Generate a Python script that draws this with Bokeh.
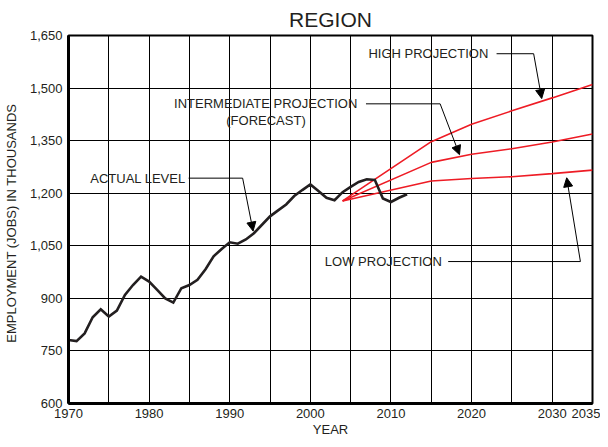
from bokeh.plotting import figure
from bokeh.models import (Range1d, FixedTicker, NumeralTickFormatter, Label, Arrow, NormalHead)
from bokeh.embed import file_html
from bokeh.resources import INLINE

FONT = "Liberation Sans"
TXT = "#231f20"

# ---- data ----
actual_years = list(range(1970, 2013))
actual_jobs = [781, 778, 800, 846, 869, 848, 865, 910, 938, 962,
               948, 924, 900, 888, 929, 938, 953, 983, 1020, 1041,
               1060, 1056, 1068, 1086, 1110, 1134, 1151, 1168, 1192, 1209,
               1225, 1206, 1187, 1180, 1203, 1218, 1232, 1240, 1238, 1185,
               1175, 1187, 1197]
proj_years = [2004, 2015, 2020, 2025, 2030, 2035]
high_proj = [1178, 1347, 1397, 1435, 1472, 1510]
inter_proj = [1178, 1288, 1311, 1327, 1346, 1369]
low_proj = [1178, 1235, 1242, 1247, 1256, 1266]

x_ticks = list(range(1970, 2036, 5))
x_tick_labels = {t: (str(t) if (t % 10 == 0 or t == 2035) else "") for t in x_ticks}
y_ticks = list(range(600, 1651, 150))

# annotations: (text, label x, label y, leader points, arrow tip)
annotations = [
    ("HIGH PROJECTION", 2007.2, 1598, [(2023.1, 1598), (2027.7, 1598)], (2028.7, 1470)),
    ("INTERMEDIATE PROJECTION", 1983.1, 1455, [(2006.9, 1455), (2016.1, 1455)], (2018.5, 1310)),
    ("ACTUAL LEVEL", 1972.7, 1243, [(1984.9, 1243), (1991.6, 1243)], (1992.9, 1092)),
    ("LOW PROJECTION", 2001.8, 1005, [(2017.1, 1005), (2033.5, 1005)], (2031.8, 1244)),
]
forecast_note = ("(FORECAST)", 1994.5, 1407)

p = figure(width=600, height=439, x_range=Range1d(1970, 2035), y_range=Range1d(600, 1650),
           output_backend="svg", toolbar_location=None,
           min_border_left=60, min_border_right=8, min_border_top=31, min_border_bottom=36,
           background_fill_color="white", border_fill_color="white")

p.title.text = "REGION"
p.title.align = "center"
p.title.text_font = FONT
p.title.text_font_size = "21px"
p.title.text_font_style = "normal"
p.title.text_color = TXT

p.outline_line_color = "black"
p.outline_line_width = 2
p.outline_line_alpha = 1

p.xaxis.ticker = FixedTicker(ticks=x_ticks)
p.xaxis.major_label_overrides = x_tick_labels
p.yaxis.ticker = FixedTicker(ticks=y_ticks)
p.yaxis.formatter = NumeralTickFormatter(format="0,0")
p.xgrid.ticker = FixedTicker(ticks=x_ticks)
p.ygrid.ticker = FixedTicker(ticks=y_ticks)

for ax in (p.xaxis[0], p.yaxis[0]):
    ax.axis_line_width = 3
    ax.axis_line_color = "black"
    ax.major_tick_in = 0
    ax.major_tick_out = 0
    ax.minor_tick_in = 0
    ax.minor_tick_out = 0
    ax.major_label_text_font = FONT
    ax.major_label_text_font_size = "13px"
    ax.major_label_text_color = TXT
    ax.axis_label_text_font = FONT
    ax.axis_label_text_font_size = "13px"
    ax.axis_label_text_font_style = "normal"
    ax.axis_label_text_color = TXT

p.xaxis.axis_label = "YEAR"
p.yaxis.axis_label = "EMPLOYMENT (JOBS)  IN  THOUSANDS"
p.xaxis.major_label_standoff = 5
p.xaxis.axis_label_standoff = 1
p.yaxis.major_label_standoff = 6
p.yaxis.axis_label_standoff = 8

for g in (p.xgrid[0], p.ygrid[0]):
    g.grid_line_color = "black"
    g.grid_line_alpha = 1
    g.grid_line_width = 1

red = "#ee1c25"
p.line(proj_years, high_proj, line_color=red, line_width=1.6)
p.line(proj_years, inter_proj, line_color=red, line_width=1.6)
p.line(proj_years, low_proj, line_color=red, line_width=1.6)
p.line(actual_years, actual_jobs, line_color="#231f20", line_width=2.6, line_join="miter")

for text, lx, ly, leader, tip in annotations:
    p.add_layout(Label(x=lx, y=ly, text=text, text_font=FONT, text_font_size="13px",
                       text_color=TXT, text_baseline="middle", text_align="left"))
    xs = [pt[0] for pt in leader]
    ys = [pt[1] for pt in leader]
    p.line(xs, ys, line_color="black", line_width=1)
    p.add_layout(Arrow(end=NormalHead(size=9, fill_color="black", line_color="black"),
                       x_start=xs[-1], y_start=ys[-1], x_end=tip[0], y_end=tip[1],
                       line_color="black", line_width=1))

p.add_layout(Label(x=forecast_note[1], y=forecast_note[2], text=forecast_note[0],
                   text_font=FONT, text_font_size="13px", text_color=TXT,
                   text_baseline="middle", text_align="center"))

open("out.html", "w").write(file_html(p, INLINE))
